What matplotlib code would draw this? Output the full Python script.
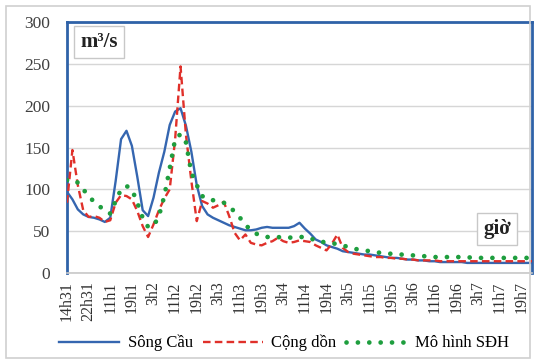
import matplotlib
matplotlib.use("Agg")
import matplotlib.pyplot as plt
from matplotlib.patches import Rectangle

# Discharge hydrographs (m3/s), one value every 2 hours starting at 14h on day 31
song_cau = [97, 88, 76, 70, 67, 66, 64, 61, 66, 110,
            160, 170, 152, 115, 75, 68, 90, 120, 145, 177,
            193, 197, 176, 145, 105, 80, 70, 66, 63, 60,
            57, 55, 53, 51, 51, 52, 54, 55, 54, 54,
            54, 54, 56, 60, 53, 47, 40, 37, 33, 31,
            29, 26, 25, 24, 23, 22, 22, 21, 20, 19,
            18, 18, 17, 16, 16, 15, 15, 14, 14, 13,
            13, 13, 13, 13, 12, 12, 12, 12, 12, 12,
            12, 12, 12, 12, 12, 12, 12]

cong_don = [84, 147, 105, 75, 67, 68, 66, 61, 63, 84,
            93, 92, 88, 74, 56, 43, 58, 75, 89, 100,
            160, 247, 165, 110, 62, 86, 83, 78, 81, 85,
            68, 48, 39, 46, 36, 34, 33, 36, 38, 42,
            38, 36, 37, 39, 38, 37, 33, 30, 27, 35,
            46, 30, 25, 23, 22, 21, 20, 19, 19, 18,
            18, 17, 17, 16, 16, 15, 15, 15, 15, 14,
            14, 14, 14, 14, 14, 14, 14, 14, 14, 14,
            14, 14, 14, 14, 14, 14, 14]

mo_hinh = [111, 112, 108, 100, 92, 85, 80, 74, 71, 86,
           100, 104, 100, 84, 66, 55, 56, 68, 92, 125,
           160, 166, 156, 120, 105, 92, 88, 87, 86, 84,
           80, 73, 66, 57, 52, 47, 44, 43, 43, 43,
           42, 42, 43, 43, 43, 42, 38, 37, 37, 36,
           34, 33, 31, 29, 28, 27, 26, 25, 24, 23,
           23, 22, 22, 21, 21, 20, 20, 20, 19, 19,
           19, 19, 19, 19, 19, 18, 18, 18, 18, 18,
           18, 18, 18, 18, 18, 18, 18]

tick_labels = ["14h31", "22h31", "11h1", "19h1", "3h2", "11h2", "19h2",
               "3h3", "11h3", "19h3", "3h4", "11h4", "19h4", "3h5",
               "11h5", "19h5", "3h6", "11h6", "19h6", "3h7", "11h7", "19h7"]
y_ticks = [0, 50, 100, 150, 200, 250, 300]

serif = ["Liberation Serif", "DejaVu Serif"]
plt.rcParams["font.family"] = serif

fig = plt.figure(figsize=(5.36, 3.62), dpi=100)
fig.patch.set_facecolor("white")

# light outer frame of the chart
fig.patches.append(Rectangle((0.012, 0.012), 0.976, 0.972, transform=fig.transFigure,
                             fill=False, edgecolor="#D0D0D0", linewidth=1.2))

ax = fig.add_axes([0.125, 0.246, 0.8675, 0.693])

x = list(range(len(song_cau)))
ax.plot(x, song_cau, color="#3566B0", lw=1.7, label="Sông Cầu", zorder=3)
ax.plot(x, cong_don, color="#E0302A", lw=1.7, linestyle=(0, (3.2, 1.8)),
        label="Cộng dồn", zorder=4)
ax.plot(x, mo_hinh, color="#1E9E3E", lw=3.4, linestyle=(0, (0.01, 2.4)),
        dash_capstyle="round", label="Mô hình SĐH", zorder=5)

ax.set_xlim(0, len(song_cau) - 1)
ax.set_ylim(0, 300)
ax.set_yticks(y_ticks)
ax.set_yticklabels([str(v) for v in y_ticks], fontsize=12.5, color="#404040")
ax.set_xticks(range(0, 4 * len(tick_labels), 4))
ax.set_xticklabels(tick_labels, rotation=90, fontsize=11.5, color="#303030")
ax.tick_params(axis="both", length=0)
ax.tick_params(axis="x", pad=6)
ax.tick_params(axis="y", pad=12)

ax.grid(axis="y", color="#D6D6D6", lw=1.0)
ax.set_axisbelow(True)
for side in ("left", "top", "right"):
    ax.spines[side].set_color("#2F62A8")
    ax.spines[side].set_linewidth(2.0)
ax.spines["bottom"].set_color("#C8C8C8")
ax.spines["bottom"].set_linewidth(1.2)

box = dict(boxstyle="square,pad=0.3", facecolor="white", edgecolor="#C8C8C8", lw=1.0)
ax.text(0.028, 0.96, "m³/s", transform=ax.transAxes, fontsize=15,
        fontweight="bold", va="top", ha="left", color="#222222", bbox=box)
ax.text(0.955, 0.135, "giờ", transform=ax.transAxes, fontsize=15,
        fontweight="bold", va="bottom", ha="right", color="#222222", bbox=box)

fig.legend(loc="center", bbox_to_anchor=(0.53, 0.052), ncol=3, frameon=False,
           fontsize=12, handlelength=3.6, columnspacing=0.6, handletextpad=0.5)

fig.savefig("out.png", dpi=100, facecolor="white")
